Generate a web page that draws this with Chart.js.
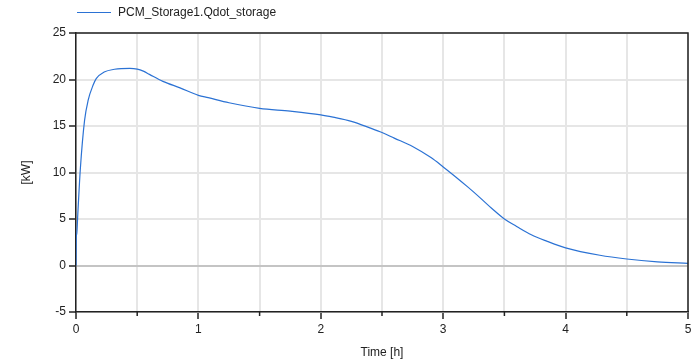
<!DOCTYPE html>
<html>
<head>
<meta charset="utf-8">
<script src="https://cdn.jsdelivr.net/npm/chart.js@4/dist/chart.umd.min.js"></script>
<style>
  html, body { margin: 0; padding: 0; background: #fff; }
  #wrap { width: 691px; height: 362px; position: relative; }
</style>
</head>
<body>
<div id="wrap"><canvas id="chart"></canvas></div>
<script>
// values (time in hours, power in kW)
const seriesLabel = 'PCM_Storage1.Qdot_storage';
const timeHours = [0, 0.002, 0.006, 0.015, 0.035, 0.07, 0.1, 0.14, 0.165, 0.23, 0.315, 0.44, 0.5, 0.55, 0.6, 0.71, 0.85, 1.0, 1.08, 1.25, 1.5, 1.75, 2.0, 2.1, 2.25, 2.4, 2.5, 2.6, 2.75, 2.9, 3.0, 3.1, 3.2, 3.3, 3.4, 3.5, 3.6, 3.72, 3.85, 4.0, 4.28, 4.5, 4.75, 5.0];
const qdotKW = [0, 3.0, 3.4, 5.6, 10.3, 15.6, 17.8, 19.4, 20.1, 20.8, 21.1, 21.2, 21.12, 20.9, 20.55, 19.8, 19.1, 18.3, 18.05, 17.5, 16.9, 16.6, 16.2, 15.95, 15.5, 14.8, 14.3, 13.7, 12.8, 11.6, 10.6, 9.55, 8.45, 7.3, 6.1, 5.0, 4.2, 3.3, 2.6, 1.9, 1.1, 0.7, 0.4, 0.23];
const xTicks = [0, 1, 2, 3, 4, 5];
const yTicks = [-5, 0, 5, 10, 15, 20, 25];

const lineColor = '#2b72d4';
const fontFamily = "'Liberation Sans', Arial, sans-serif";

// frame, minor x ticks and legend drawn on top of the chart
const framePlugin = {
    id: 'frame',
    afterDraw(chart) {
        const ctx = chart.ctx;
        const area = chart.chartArea;
        const xs = chart.scales.x;
        ctx.save();
        ctx.strokeStyle = '#222';
        ctx.lineWidth = 1.5;
        ctx.beginPath();
        ctx.moveTo(area.left, area.top);
        ctx.lineTo(area.right, area.top);
        ctx.lineTo(area.right, area.bottom);
        ctx.stroke();

        // short ticks at the half hours
        for (let v = 0.5; v < 5; v += 1) {
            const px = xs.getPixelForValue(v);
            ctx.beginPath();
            ctx.moveTo(px, area.bottom);
            ctx.lineTo(px, area.bottom + 4);
            ctx.stroke();
        }

        // legend
        ctx.strokeStyle = lineColor;
        ctx.lineWidth = 1.2;
        ctx.beginPath();
        ctx.moveTo(77, 12.5);
        ctx.lineTo(111, 12.5);
        ctx.stroke();
        ctx.fillStyle = '#222';
        ctx.font = '12px ' + fontFamily;
        ctx.textBaseline = 'middle';
        ctx.textAlign = 'left';
        ctx.fillText(seriesLabel, 118, 12.5);
        ctx.restore();
    }
};

const points = timeHours.map((t, i) => ({ x: t, y: qdotKW[i] }));

new Chart(document.getElementById('chart'), {
    type: 'line',
    data: {
        datasets: [{
            label: seriesLabel,
            data: points,
            borderColor: lineColor,
            borderWidth: 1.2,
            pointRadius: 0,
            fill: false,
            cubicInterpolationMode: 'monotone'
        }]
    },
    options: {
        responsive: true,
        maintainAspectRatio: false,
        animation: false,
        layout: { padding: { left: 0, top: 33, right: 0, bottom: 0 } },
        plugins: {
            legend: { display: false },
            tooltip: { enabled: false }
        },
        scales: {
            x: {
                type: 'linear',
                min: 0,
                max: 5,
                afterFit: s => { s.height = 50; s.paddingRight = 3; },
                afterBuildTicks: s => {
                    const t = [];
                    for (let v = 0; v <= 10; v++) t.push({ value: v / 2 });
                    s.ticks = t;
                },
                ticks: {
                    color: '#222',
                    padding: 3,
                    maxRotation: 0,
                    autoSkip: false,
                    font: { family: fontFamily, size: 12 },
                    callback: v => (xTicks.includes(v) ? String(v) : '')
                },
                grid: {
                    color: '#e6e6e6',
                    lineWidth: 2,
                    tickLength: 7,
                    tickColor: c => (c.tick && c.tick.value % 1 === 0 ? '#222' : 'rgba(0,0,0,0)'),
                    tickWidth: 1.5
                },
                border: { color: '#222', width: 1.5 },
                title: {
                    display: true,
                    text: 'Time [h]',
                    color: '#222',
                    font: { family: fontFamily, size: 12 },
                    padding: { top: 0, bottom: 2 }
                }
            },
            y: {
                min: -5,
                max: 25,
                afterFit: s => { s.width = 76; },
                afterBuildTicks: s => { s.ticks = yTicks.map(v => ({ value: v })); },
                ticks: {
                    color: '#222',
                    padding: 3,
                    font: { family: fontFamily, size: 12 }
                },
                grid: {
                    color: c => (c.tick && c.tick.value === 0 ? '#c4c4c4' : '#e6e6e6'),
                    lineWidth: 2,
                    tickLength: 7,
                    tickColor: '#222',
                    tickWidth: 1.5
                },
                border: { color: '#222', width: 1.5 },
                title: {
                    display: true,
                    text: '[kW]',
                    color: '#222',
                    font: { family: fontFamily, size: 12 },
                    padding: { top: 19, bottom: 0 }
                }
            }
        }
    },
    plugins: [framePlugin]
});
</script>
</body>
</html>
